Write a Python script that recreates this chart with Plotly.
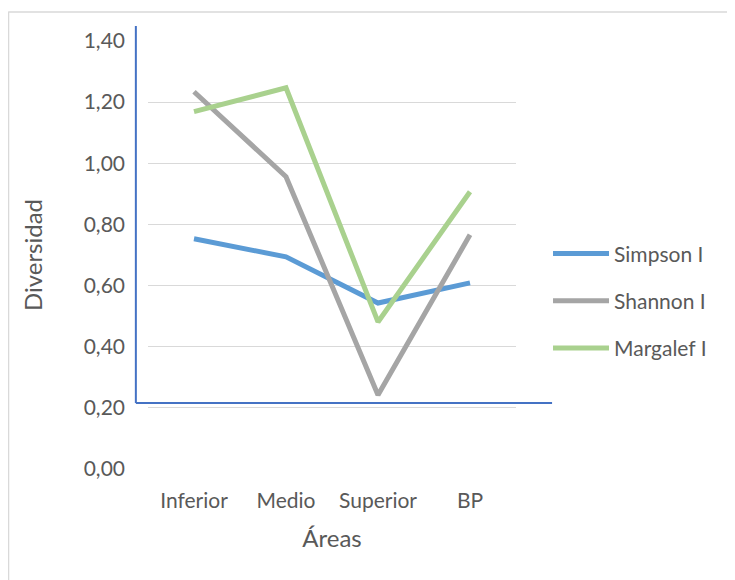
import plotly.graph_objs as go

# Data
areas    = ["Inferior", "Medio", "Superior", "BP"]
simpson  = [0.753, 0.694, 0.543, 0.609]
shannon  = [1.234, 0.956, 0.242, 0.766]
margalef = [1.169, 1.247, 0.481, 0.907]
y_ticks  = [0.0, 0.2, 0.4, 0.6, 0.8, 1.0, 1.2, 1.4]
y_labels = ["0,00", "0,20", "0,40", "0,60", "0,80", "1,00", "1,20", "1,40"]

series = [("Simpson I", simpson, "#5B9BD5"),
          ("Shannon I", shannon, "#A5A5A5"),
          ("Margalef I", margalef, "#A9D18E")]

font_name = "Lato"
txt_color = "#595959"
axis_blue = "#4472C4"

fig = go.Figure()
for i, (name, vals, col) in enumerate(series):
    fig.add_trace(go.Scatter(x = areas, y = vals, name = name, mode = "lines",
                             legendgroup = str(i),
                             line = dict(color = col, width = 5)))

# page body has an 8px margin, so the figure is 8px smaller than the window
fig.update_layout(width = 727, height = 572, plot_bgcolor = "white", paper_bgcolor = "white",
                  margin = dict(l = 140, r = 219, t = 33, b = 111),
                  font = dict(family = font_name, size = 21, color = txt_color),
                  legend = dict(x = 1.087, y = 0.393, xanchor = "left", yanchor = "middle",
                                itemwidth = 56, tracegroupgap = 17,
                                font = dict(size = 21, color = txt_color)))

fig.update_xaxes(range = [-0.5, 3.5], showline = False, showgrid = False, ticks = "",
                 ticklabelstandoff = 17,
                 title = dict(text = "Áreas", standoff = 19, font = dict(size = 24)),
                 tickfont = dict(size = 21))
fig.update_yaxes(range = [0, 1.4], tickvals = y_ticks, ticktext = y_labels,
                 showgrid = True, gridcolor = "#D9D9D9", gridwidth = 1,
                 zeroline = False, showline = False, ticks = "", ticklabelstandoff = 22,
                 title = dict(text = "Diversidad", standoff = 34, font = dict(size = 24)),
                 tickfont = dict(size = 21))

# blue axis lines drawn over the chart
fig.add_shape(type = "line", xref = "paper", yref = "paper", x0 = -0.033, x1 = -0.033,
              y0 = 1.035, y1 = 0.154, line = dict(color = axis_blue, width = 2))
fig.add_shape(type = "line", xref = "paper", yref = "paper", x0 = -0.033, x1 = 1.098,
              y0 = 0.154, y1 = 0.154, line = dict(color = axis_blue, width = 2))

# outer border of the chart area
fig.add_shape(type = "line", xref = "paper", yref = "paper", x0 = -0.38, x1 = 1.6,
              y0 = 1.068, y1 = 1.068, line = dict(color = "#D9D9D9", width = 1.5))
fig.add_shape(type = "line", xref = "paper", yref = "paper", x0 = -0.379, x1 = -0.379,
              y0 = 1.068, y1 = -0.3, line = dict(color = "#D9D9D9", width = 1.5))

fig.write_html("out.html")
